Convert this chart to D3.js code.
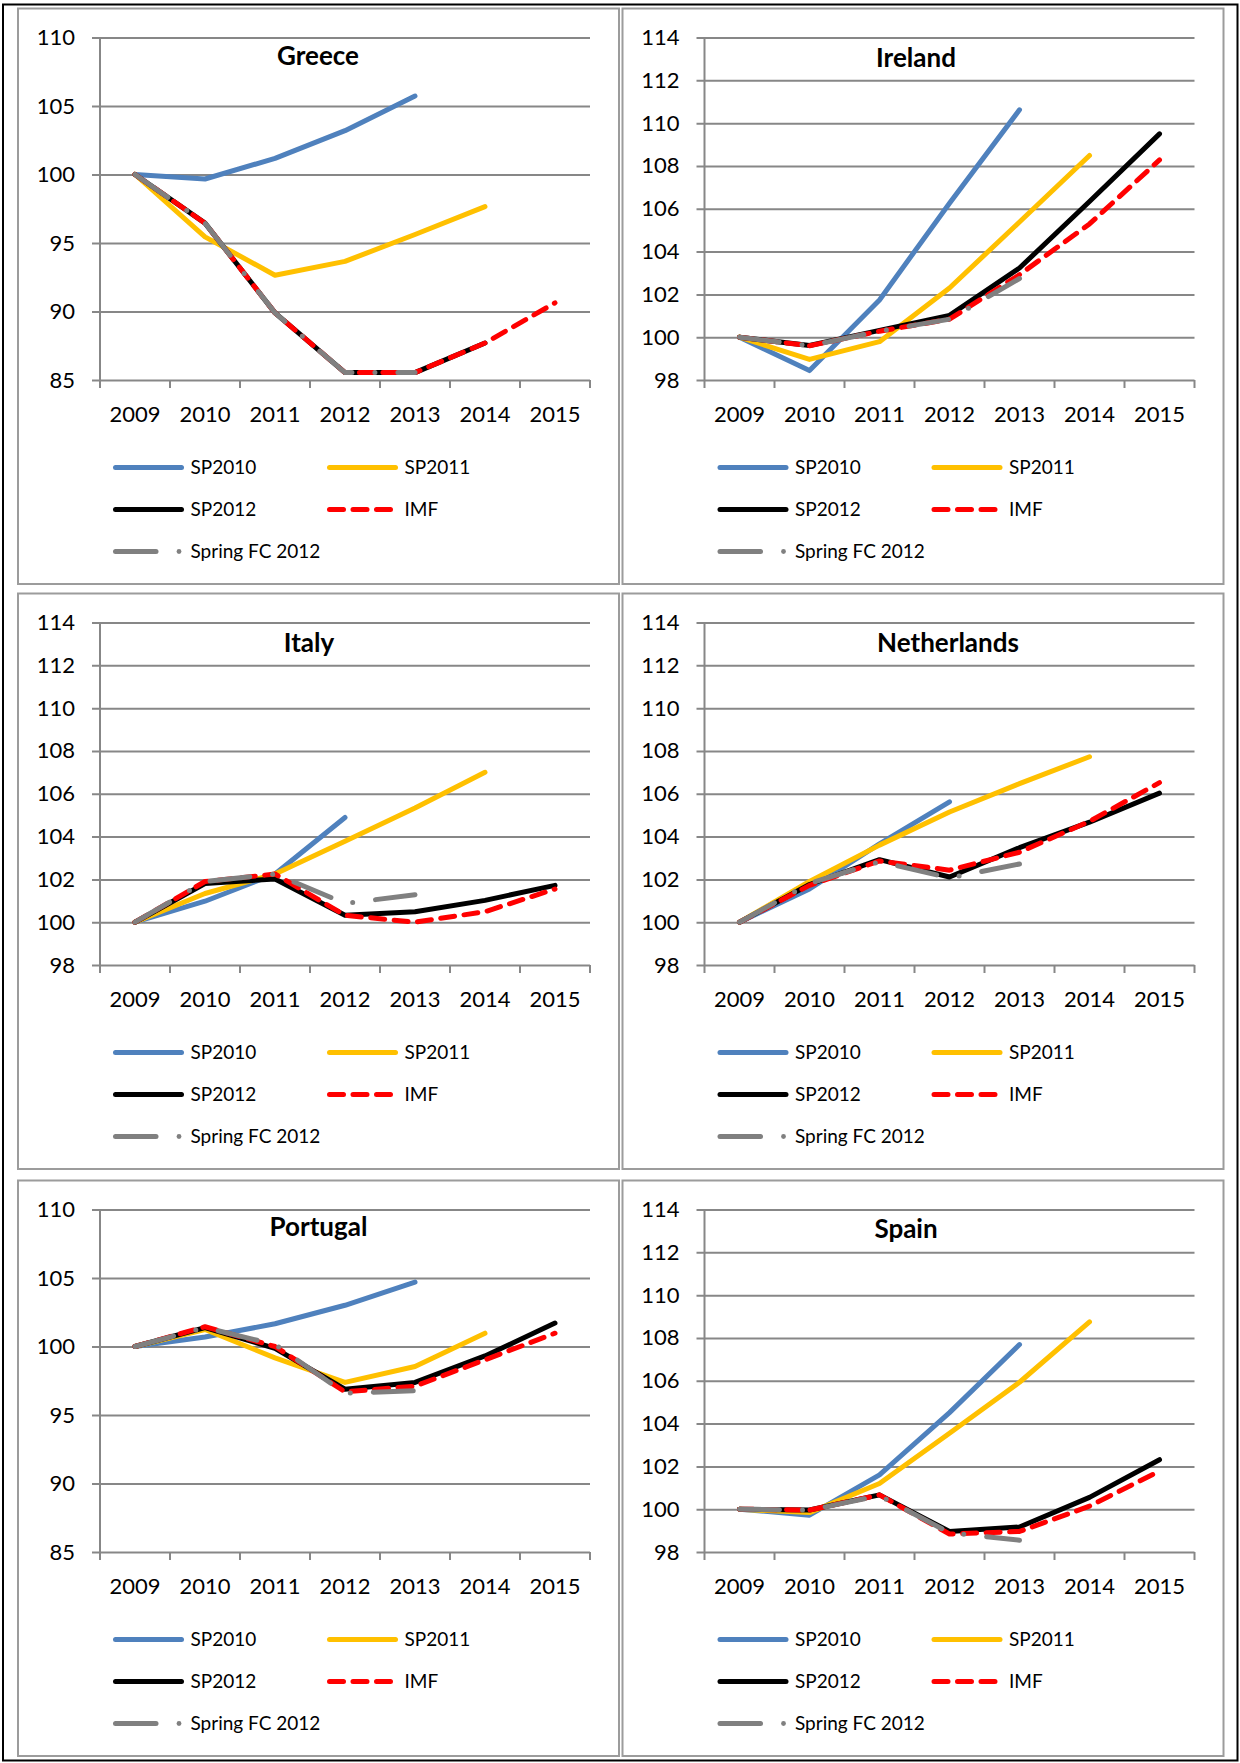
<!DOCTYPE html>
<html>
<head>
<meta charset="utf-8">
<script src="https://cdn.jsdelivr.net/npm/d3@7"></script>
<style>
  body { margin: 0; background: #fff; }
  svg { display: block; font-family: Lato, "Open Sans", sans-serif; }
</style>
</head>
<body>
<svg id="chart" width="1240" height="1763"></svg>
<script>
// years on the x axis
const years = ['2009', '2010', '2011', '2012', '2013', '2014', '2015'];
const seriesNames = ['SP2010', 'SP2011', 'SP2012', 'IMF', 'Spring FC 2012'];

// y tick labels per panel
const ticksGreece = [85, 90, 95, 100, 105, 110];
const ticksIreland = [98, 100, 102, 104, 106, 108, 110, 112, 114];
const ticksItaly = [98, 100, 102, 104, 106, 108, 110, 112, 114];
const ticksNetherlands = [98, 100, 102, 104, 106, 108, 110, 112, 114];
const ticksPortugal = [85, 90, 95, 100, 105, 110];
const ticksSpain = [98, 100, 102, 104, 106, 108, 110, 112, 114];

// series values, one row per series (SP2010, SP2011, SP2012, IMF, Spring FC 2012), null = no value
const greece = [
  [100, 99.67, 101.18, 103.2, 105.73, null, null],
  [100, 95.45, 92.65, 93.66, 95.62, 97.66, null],
  [100, 96.45, 89.9, 85.54, 85.54, 87.7, null],
  [100, 96.45, 89.9, 85.54, 85.54, 87.7, 90.63],
  [100, 96.45, 89.9, 85.54, 85.54, null, null],
];
const ireland = [
  [100, 98.44, 101.74, 106.26, 110.62, null, null],
  [100, 98.96, 99.79, 102.3, 105.38, 108.49, null],
  [100, 99.61, 100.32, 101.02, 103.23, 106.34, 109.5],
  [100, 99.6, 100.28, 100.84, 102.92, 105.29, 108.28],
  [100, 99.6, 100.28, 100.84, 102.74, null, null],
];
const italy = [
  [100, 100.98, 102.25, 104.89, null, null, null],
  [100, 101.34, 102.25, 103.78, 105.33, 107.0, null],
  [100, 101.81, 102.02, 100.32, 100.49, 101.02, 101.72],
  [100, 101.9, 102.25, 100.32, 100.0, 100.49, 101.55],
  [100, 101.9, 102.25, 100.88, 101.28, null, null],
];
const netherlands = [
  [100, 101.55, 103.66, 105.62, null, null, null],
  [100, 101.9, 103.6, 105.15, 106.47, 107.73, null],
  [100, 101.76, 102.92, 102.11, 103.48, 104.67, 106.03],
  [100, 101.72, 102.86, 102.43, 103.27, 104.71, 106.52],
  [100, 101.81, 102.83, 102.07, 102.72, null, null],
];
const portugal = [
  [100, 100.69, 101.66, 103.01, 104.7, null, null],
  [100, 101.24, 99.17, 97.38, 98.54, 100.97, null],
  [100, 101.38, 99.86, 96.88, 97.38, 99.31, 101.71],
  [100, 101.44, 100.0, 96.69, 97.1, 99.03, 100.97],
  [100, 101.38, 100.14, 96.6, 96.77, null, null],
];
const spain = [
  [100, 99.72, 101.6, 104.51, 107.69, null, null],
  [100, 99.84, 101.2, 103.55, 105.93, 108.75, null],
  [100, 99.96, 100.67, 98.96, 99.17, 100.55, 102.31],
  [100, 99.96, 100.67, 98.84, 98.96, 100.14, 101.78],
  [100, 99.96, 100.63, 98.9, 98.55, null, null],
];

const panels = [
  { title: 'Greece', ticks: ticksGreece, values: greece },
  { title: 'Ireland', ticks: ticksIreland, values: ireland },
  { title: 'Italy', ticks: ticksItaly, values: italy },
  { title: 'Netherlands', ticks: ticksNetherlands, values: netherlands },
  { title: 'Portugal', ticks: ticksPortugal, values: portugal },
  { title: 'Spain', ticks: ticksSpain, values: spain },
];

// layout
const colX = [18, 622.5];
const rowY = [8.5, 593.5, 1180.5];
const panelW = 601;
const panelH = 575.5;
const plot = { left: 82, top: 29, width: 490, height: 342.5 };
// title anchor (centre x, baseline y) inside each panel
const titlePos = [[300, 56], [293.5, 58.5], [291, 58.5], [325.5, 58.5], [300.5, 55.5], [283.5, 57.5]];

const GRID = '#878787';
const styles = [
  { color: '#4F81BD', dash: null },
  { color: '#FFC000', dash: null },
  { color: '#000000', dash: null },
  { color: '#FF0000', dash: '14 9.5' },
  { color: '#808080', dash: '40 23 0 23' },
];
const LINE_W = 5;

const svg = d3.select('#chart');

// outer frame
svg.append('rect')
  .attr('x', 3)
  .attr('y', 4.5)
  .attr('width', 1234.5)
  .attr('height', 1756)
  .attr('fill', 'none')
  .attr('stroke', '#000')
  .attr('stroke-width', 2);

const x = d3.scaleBand()
  .domain(years)
  .range([0, plot.width])
  .padding(0);

panels.forEach((p, i) => {
  const px = colX[i % 2];
  const py = rowY[Math.floor(i / 2)];
  const g = svg.append('g')
    .attr('transform', `translate(${px},${py})`);

  // panel border
  g.append('rect')
    .attr('width', panelW)
    .attr('height', panelH)
    .attr('fill', '#fff')
    .attr('stroke', '#9c9c9c')
    .attr('stroke-width', 2);

  const y = d3.scaleLinear()
    .domain(d3.extent(p.ticks))
    .range([plot.height, 0]);

  const vis = g.append('g')
    .attr('transform', `translate(${plot.left},${plot.top})`);

  // gridlines + y labels
  const yAxisEl = vis.append('g')
    .call(d3.axisLeft(y).tickValues(p.ticks).tickSize(-plot.width).tickPadding(0).tickFormat(d3.format('d')));
  yAxisEl.select('.domain').remove();
  yAxisEl.selectAll('line')
    .attr('stroke', GRID)
    .attr('stroke-width', 2)
    .attr('x1', -8);
  yAxisEl.selectAll('text')
    .attr('x', -25)
    .style('font-size', '22px')
    .style('font-family', 'Lato, sans-serif')
    .attr('fill', '#000');

  // vertical axis line
  vis.append('line')
    .attr('x1', 0).attr('x2', 0)
    .attr('y1', 0).attr('y2', plot.height)
    .attr('stroke', GRID)
    .attr('stroke-width', 2);

  // x labels
  const xAxisEl = vis.append('g')
    .attr('transform', `translate(0,${plot.height})`)
    .call(d3.axisBottom(x).tickSize(0).tickPadding(26));
  xAxisEl.select('.domain').remove();
  xAxisEl.selectAll('text')
    .style('font-size', '22px')
    .style('font-family', 'Lato, sans-serif')
    .attr('fill', '#000');

  // tick marks between categories
  const bounds = years.map(d => x(d)).concat([plot.width]);
  vis.selectAll('.xtick')
    .data(bounds)
    .enter()
    .append('line')
    .attr('x1', d => d).attr('x2', d => d)
    .attr('y1', plot.height).attr('y2', plot.height + 8)
    .attr('stroke', GRID)
    .attr('stroke-width', 2);

  // series lines
  const line = d3.line()
    .defined(d => d != null)
    .x((d, j) => x(years[j]) + x.bandwidth() / 2)
    .y(d => y(d));

  p.values.forEach((vals, k) => {
    vis.append('path')
      .attr('d', line(vals))
      .attr('fill', 'none')
      .attr('stroke', styles[k].color)
      .attr('stroke-width', LINE_W)
      .attr('stroke-linecap', 'round')
      .attr('stroke-linejoin', 'round')
      .attr('stroke-dasharray', styles[k].dash);
  });

  // title
  g.append('text')
    .attr('x', titlePos[i][0])
    .attr('y', titlePos[i][1])
    .attr('text-anchor', 'middle')
    .style('font-size', '26px')
    .style('font-weight', 'bold')
    .text(p.title);

  // legend
  const legendPos = [[97.5, 459], [311.5, 459], [97.5, 501], [311.5, 501], [97.5, 543]];
  seriesNames.forEach((name, k) => {
    const [lx, ly] = legendPos[k];
    const lg = g.append('g').attr('transform', `translate(${lx},${ly})`);
    if (k === 4) {
      lg.append('line')
        .attr('x1', 0).attr('x2', 40.5)
        .attr('stroke', styles[k].color)
        .attr('stroke-width', LINE_W)
        .attr('stroke-linecap', 'round');
      lg.append('circle')
        .attr('cx', 63.5)
        .attr('r', 2.4)
        .attr('fill', styles[k].color);
    } else {
      lg.append('line')
        .attr('x1', 0).attr('x2', 66)
        .attr('stroke', styles[k].color)
        .attr('stroke-width', LINE_W)
        .attr('stroke-linecap', 'round')
        .attr('stroke-dasharray', styles[k].dash);
    }
    lg.append('text')
      .attr('x', 75)
      .attr('dy', '0.35em')
      .style('font-size', '19px')
      .text(name);
  });
});
</script>
</body>
</html>
